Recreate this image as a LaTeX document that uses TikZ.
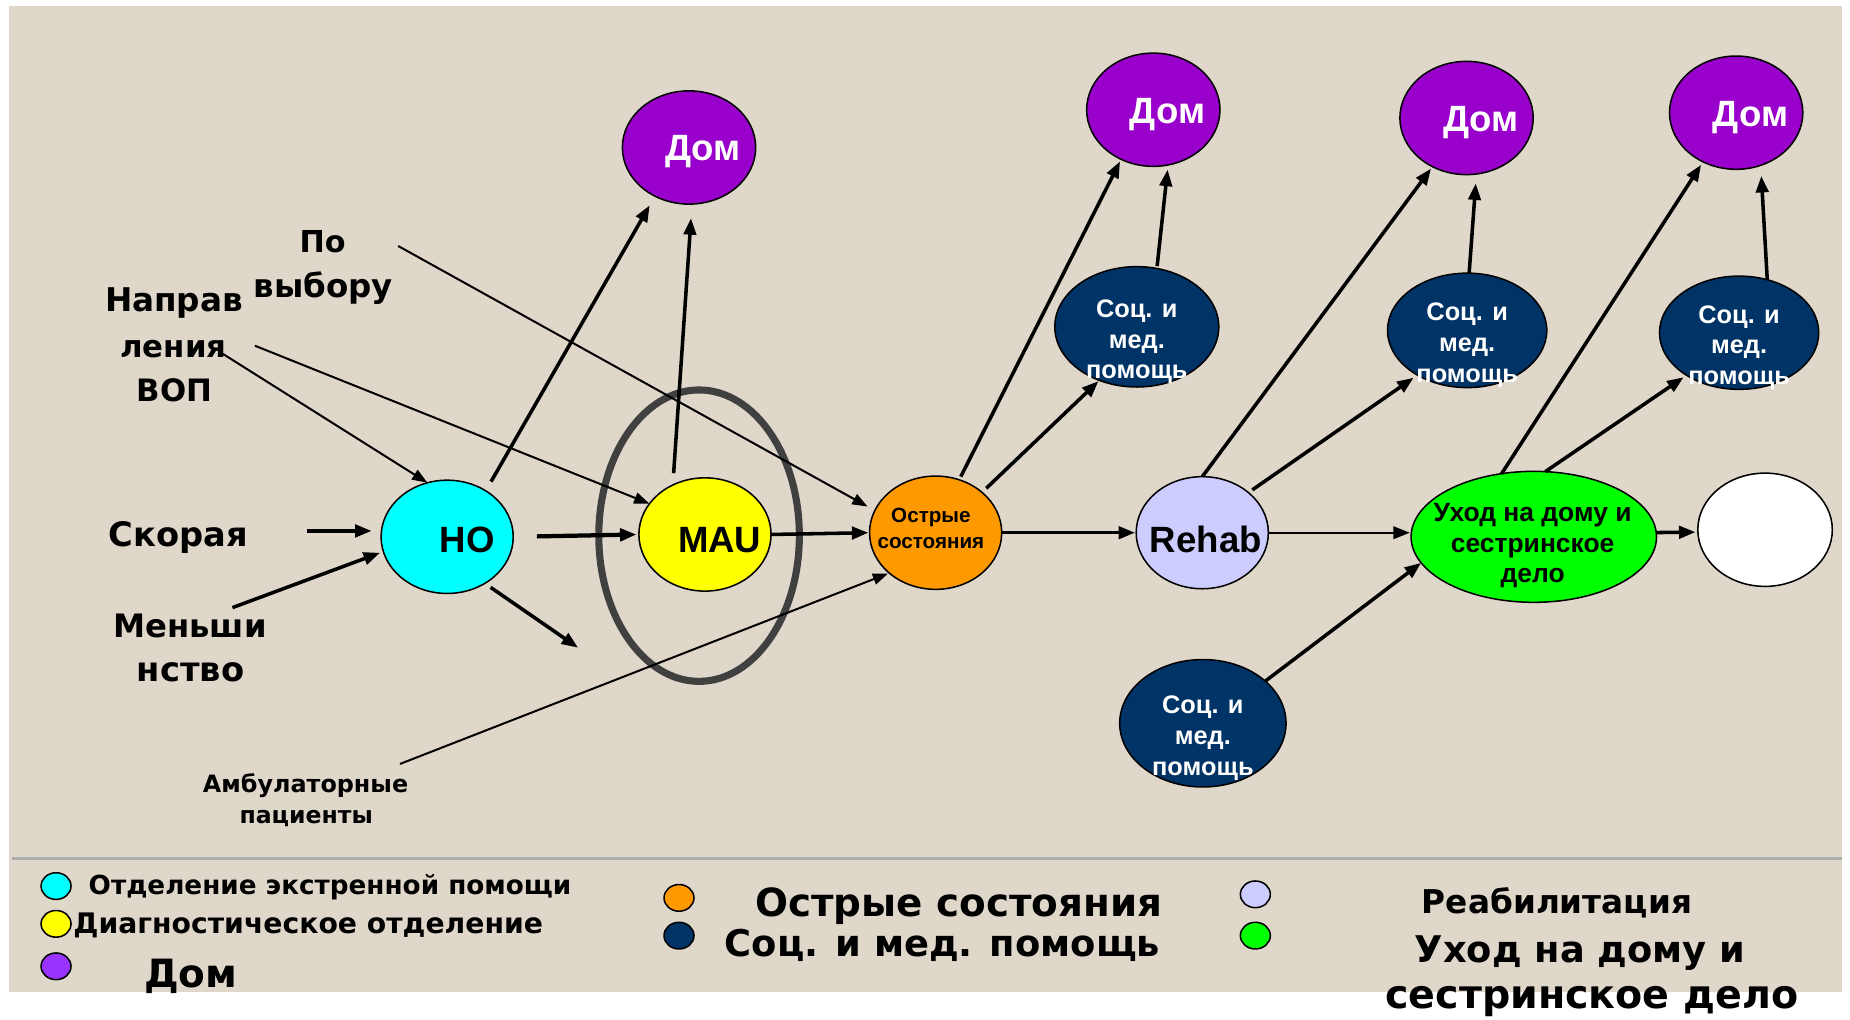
\documentclass[tikz,border=0pt]{standalone}
\usepackage{fontspec}
\usepackage{graphicx}
\usetikzlibrary{shapes.geometric,arrows.meta,calc}

\newfontfamily\nodefont{Liberation Sans}
\newfontfamily\labelfont{DejaVu Sans}

\definecolor{paper}{RGB}{223,215,202}
\definecolor{homepurple}{HTML}{9900CC}
\definecolor{legpurple}{HTML}{9933FF}
\definecolor{socnavy}{HTML}{003366}
\definecolor{hocyan}{HTML}{00FFFF}
\definecolor{mauyellow}{HTML}{FFFF00}
\definecolor{acuteorange}{HTML}{FF9900}
\definecolor{rehablav}{HTML}{CCCCFF}
\definecolor{caregreen}{HTML}{00FF00}
\definecolor{ringgray}{HTML}{404040}
\definecolor{sepgray}{HTML}{ADADAD}

% label text scaled to a given width (in pt)
\newcommand{\fitw}[2]{\resizebox{#1pt}{!}{\labelfont\bfseries #2}}
% stacked centred lines, baseline on the first line
\newcommand{\stackl}[1]{\begin{tabular}[t]{@{}c@{}}#1\end{tabular}}

\tikzset{
  blob/.style={ellipse, draw=black, line width=1.3pt, inner sep=0pt, outer sep=0pt},
  home/.style={blob, fill=homepurple, minimum width=113pt, minimum height=96pt},
  soc/.style={blob, fill=socnavy},
  stage/.style={blob, minimum width=112pt, minimum height=96pt},
  legdot/.style={ellipse, draw=black, line width=1.3pt, inner sep=0pt,
                 minimum width=25.4pt, minimum height=22.6pt},
  bigtext/.style={inner sep=0pt, anchor=base, font=\nodefont\bfseries\fontsize{31}{34}\selectfont},
  soctext/.style={inner sep=0pt, anchor=base, text=white,
                  font=\nodefont\bfseries\fontsize{21.5}{26}\selectfont},
  lbl/.style={inner sep=0pt, anchor=base},
  legtext/.style={inner sep=0pt, anchor=base west},
  arr/.style={line width=3pt, -{Triangle[length=14pt,width=10.5pt]}},
  thinarr/.style={line width=1.7pt, -{Triangle[length=13pt,width=9.5pt]}},
}

\begin{document}
\begin{tikzpicture}[x=1pt, y=-1pt]
  % page and paper background
  \fill[white] (0,0) rectangle (1568,864);
  \useasboundingbox (0,0) rectangle (1568,864);
  \fill[paper] (8,5) rectangle (1561,841);
  \draw[sepgray, line width=2pt] (10,727.5) -- (1561,727.5);

  % ---- pathway nodes ----
  \node[home] (dom1) at (584,125) {};
  \node[home] (dom2) at (977.5,93) {};
  \node[home] (dom3) at (1243,100) {};
  \node[home] (dom4) at (1471.5,95.5) {};

  \node[soc, minimum width=139pt, minimum height=102pt] (soc1) at (963.5,277) {};
  \node[soc, minimum width=135pt, minimum height=97pt]  (soc2) at (1243.5,280) {};
  \node[soc, minimum width=135pt, minimum height=96pt]  (soc3) at (1474,282) {};
  \node[soc, minimum width=141pt, minimum height=108pt] (soc4) at (1019.5,613) {};

  \node[stage, fill=hocyan]      (ho)    at (379,455) {};
  \node[stage, fill=mauyellow]   (mau)   at (597.5,453) {};
  \node[stage, fill=acuteorange] (acute) at (793,451.5) {};
  \node[stage, fill=rehablav, minimum height=95pt] (rehab) at (1019,451.5) {};
  \node[blob, fill=caregreen, minimum width=208pt, minimum height=111pt] (care) at (1300,455) {};
  \node[stage, fill=white, minimum width=114pt] (next) at (1496,449) {};

  % ring around the assessment unit
  \node[ellipse, draw=ringgray, line width=6pt, inner sep=0pt, outer sep=0pt,
        minimum width=170pt, minimum height=247pt] (ring) at (592.5,454) {};

  % ---- node texts ----
  \node[bigtext, text=white] (dom1t) at (596,136) {Дом};
  \node[bigtext, text=white] (dom2t) at (989.5,104.5) {Дом};
  \node[bigtext, text=white] (dom3t) at (1255,111.5) {Дом};
  \node[bigtext, text=white] (dom4t) at (1483.5,107) {Дом};

  \node[soctext] (soc1t) at (963.5,269) {\stackl{Соц. и\\мед.\\помощь}};
  \node[soctext] (soc2t) at (1243.5,272) {\stackl{Соц. и\\мед.\\помощь}};
  \node[soctext] (soc3t) at (1474,274) {\stackl{Соц. и\\мед.\\помощь}};
  \node[soctext] (soc4t) at (1019.5,605) {\stackl{Соц. и\\мед.\\помощь}};

  \node[bigtext] (hot)    at (396,468)  {НО};
  \node[bigtext] (maut)   at (610,468)  {MAU};
  \node[bigtext] (rehabt) at (1022,468) {Rehab};
  \node[inner sep=0pt, anchor=base, font=\nodefont\bfseries\fontsize{17.5}{22}\selectfont]
       (acutet) at (789,443) {\stackl{Острые\\состояния}};
  \node[inner sep=0pt, anchor=base, font=\nodefont\bfseries\fontsize{22.4}{26}\selectfont]
       (caret) at (1299,442) {\stackl{Уход на дому и\\сестринское\\дело}};

  % ---- entry labels ----
  \node[lbl] (po)     at (273.5,214) {\fitw{39}{По}};
  \node[lbl] (vybor)  at (274,252)   {\fitw{118}{выбору}};
  \node[lbl] (napr1)  at (147.5,264) {\fitw{117}{Направ}};
  \node[lbl] (napr2)  at (147,303)   {\fitw{90}{ления}};
  \node[lbl] (napr3)  at (148,340)   {\fitw{64}{ВОП}};
  \node[lbl] (skor)   at (151,463)   {\fitw{118}{Скорая}};
  \node[lbl] (men1)   at (161,540)   {\fitw{130}{Меньши}};
  \node[lbl] (men2)   at (161.5,578) {\fitw{91}{нство}};
  \node[lbl] (amb1)   at (259,672)   {\fitw{174}{Амбулаторные}};
  \node[lbl] (amb2)   at (259.5,698) {\fitw{113}{пациенты}};

  % free ends of the entry arrows
  \coordinate (skorS) at (260,450);
  \coordinate (menS)  at (197,515);
  \coordinate (napS1) at (189,300);
  \coordinate (napS2) at (216,293);
  \coordinate (povS)  at (337.5,208.5);
  \coordinate (ambS)  at (339,647.5);
  \coordinate (hoOut) at (490,549);

  % ---- connectors ----
  \draw[arr, shorten >=8pt] (skorS) -- (skorS -| ho.west);
  \draw[arr, shorten >=3pt] (menS) -- (ho.193);
  \draw[thinarr] (napS1) -- (ho.110);
  \draw[thinarr] (napS2) -- (mau.151);
  \draw[thinarr, shorten >=7pt] (povS) -- (acute.160);
  \draw[thinarr, shorten >=1pt] (ambS) -- (acute.221);

  \draw[arr, shorten <=9pt, shorten >=9pt] (ho.50) -- (dom1.235);
  \draw[arr, shorten <=10pt, shorten >=12pt] (mau.123) -- (dom1.273);
  \draw[arr, line width=3.6pt, shorten <=20pt, shorten >=2pt] (ho.east) -- (mau.west);
  \draw[arr, shorten <=6pt] (ho.309) -- (hoOut);
  \draw[arr, shorten >=1pt] (mau.east) -- (acute.west);

  \draw[arr, shorten <=3pt, shorten >=2pt] (acute.66) -- (dom2.237);
  \draw[arr, shorten <=5pt, shorten >=1pt] (acute.41) -- (soc1.235);
  \draw[arr, shorten <=2pt, shorten >=4pt] (soc1.71) -- (dom2.285);
  \draw[arr, shorten >=1pt] (acute.east) -- (rehab.west);

  \draw[arr, shorten >=2pt] (rehab.north) -- (dom3.235);
  \draw[arr, shorten <=4pt, shorten >=4pt] (rehab.41) -- (soc2.222);
  \draw[arr, shorten >=8pt] (soc2.88) -- (dom3.280);
  \draw[arr, line width=2pt, shorten >=1pt] (rehab.east) -- (rehab.east -| care.west);

  \draw[arr, shorten >=3pt] (care.117) -- (dom4.236);
  \draw[arr, shorten >=3pt] (care.80) -- (soc3.219);
  \draw[arr, shorten >=9pt] (soc3.62) -- (dom4.295);
  \draw[arr] (soc4.34) -- (care.193);
  \draw[arr, shorten >=2pt] (care.2) -- (next.182);

  % ---- legend ----
  \node[legdot, fill=hocyan]      (leg1) at (47.5,751) {};
  \node[legdot, fill=mauyellow]   (leg2) at (47.5,783) {};
  \node[legdot, fill=legpurple]   (leg3) at (47.5,819) {};
  \node[legdot, fill=acuteorange] (leg4) at (575.5,761) {};
  \node[legdot, fill=socnavy]     (leg5) at (575.5,793) {};
  \node[legdot, fill=rehablav]    (leg6) at (1064,758) {};
  \node[legdot, fill=caregreen]   (leg7) at (1064,793) {};

  \node[legtext] (leg1t) at (75,758)   {\fitw{409}{Отделение экстренной помощи}};
  \node[legtext] (leg2t) at (62,791)   {\fitw{398}{Диагностическое отделение}};
  \node[legtext] (leg3t) at (122,837)  {\fitw{79}{Дом}};
  \node[legtext] (leg4t) at (640,777)  {\fitw{345}{Острые состояния}};
  \node[legtext] (leg5t) at (614,811)  {\fitw{369}{Соц. и мед. помощь}};
  \node[legtext] (leg6t) at (1205,774) {\fitw{229}{Реабилитация}};
  \node[legtext] (leg7t) at (1199,816) {\fitw{280}{Уход на дому и}};
  \node[legtext] (leg8t) at (1174,855) {\fitw{350}{сестринское дело}};
\end{tikzpicture}
\end{document}
